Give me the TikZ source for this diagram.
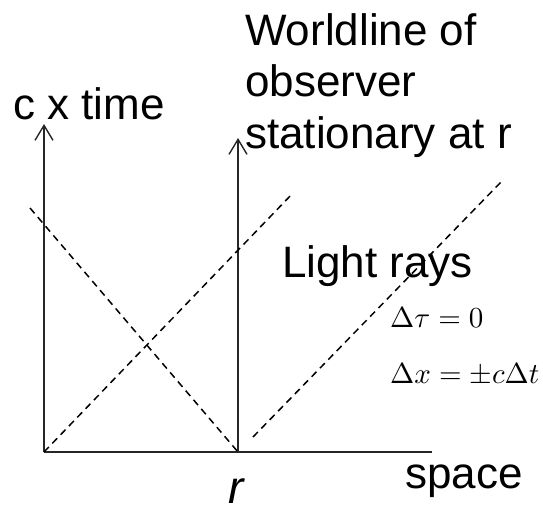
\documentclass[tikz,border=0pt]{standalone}
\usepackage{graphicx}
\usepackage{fontspec}
\setmainfont{Liberation Sans}
\usetikzlibrary{arrows.meta,positioning}
\tikzset{
  axisln/.style={-{Straight Barb[length=15pt,width=18pt]}, line width=1.4pt, black!85},
  baseln/.style={line width=1.4pt, black!85},
  rayln/.style={dash pattern=on 7pt off 5pt, line width=1.5pt, black},
  biglbl/.style={anchor=base west, inner sep=0pt, font=\fontsize{44}{51.5}\selectfont},
  eqlbl/.style={anchor=base west, inner sep=0pt},
}
\newcommand{\bigeq}[1]{\scalebox{2.9}{$#1$}}
\begin{document}
\begin{tikzpicture}[x=1pt,y=-1pt]
    \useasboundingbox (0,0) rectangle (543,508);
    % axes and worldline
    \coordinate (O) at (44,452);
    \coordinate (R) at (238,452);
    \coordinate (tTop) at (44,124);
    \coordinate (wlTop) at (238,138);
    \coordinate (xEnd) at (432,452);
    \draw[axisln] (O) -- (tTop);
    \draw[baseln] (O) -- (xEnd);
    \draw[axisln] (R) -- (wlTop);
    % light rays
    \coordinate (rayAend) at (293,193);
    \coordinate (rayBstart) at (30,208);
    \coordinate (rayCstart) at (253,437);
    \coordinate (rayCend) at (502,181);
    \draw[rayln] (O) -- (rayAend);
    \draw[rayln] (rayBstart) -- (R);
    \draw[rayln] (rayCstart) -- (rayCend);
    % labels
    \node[biglbl] (timelbl) at (13,120) {c x time};
    \node[biglbl, align=left] (wllbl) at (245,148) {Worldline of\\observer\\stationary at r};
    \node[biglbl] (lightlbl) at (282,277) {Light rays};
    \node[eqlbl] (tauEq) at (390,327) {\bigeq{\Delta\tau=0}};
    \node[eqlbl] (xEq) at (390,383) {\bigeq{\Delta x=\pm c\Delta t}};
    \node[biglbl, font=\fontsize{46}{50}\selectfont\itshape] (rlbl) at (228,503) {r};
    \node[biglbl] (spacelbl) at (405,488) {space};
  \end{tikzpicture}
\end{document}
